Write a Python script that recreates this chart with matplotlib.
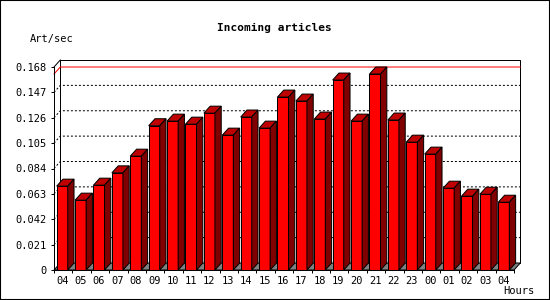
import numpy as np
import matplotlib
matplotlib.use("Agg")
import matplotlib.pyplot as plt
from matplotlib.patches import Polygon, Rectangle

hours = ["04", "05", "06", "07", "08", "09", "10", "11", "12", "13", "14", "15",
         "16", "17", "18", "19", "20", "21", "22", "23", "00", "01", "02", "03", "04"]
values = [0.0694, 0.0578, 0.0702, 0.0804, 0.0942, 0.1194, 0.1232, 0.1207, 0.1298,
          0.1116, 0.1266, 0.1174, 0.1431, 0.1398, 0.1249, 0.1572, 0.1232, 0.1622,
          0.1241, 0.1058, 0.0959, 0.0677, 0.0611, 0.0627, 0.0561]
yticks = [0, 0.021, 0.042, 0.063, 0.084, 0.105, 0.126, 0.147, 0.168]
ytick_labels = ["0", "0.021", "0.042", "0.063", "0.084", "0.105", "0.126", "0.147", "0.168"]

plt.rcParams["font.family"] = ["DejaVu Sans Mono"]
plt.rcParams["font.size"] = 7.5

W, H = 550, 300
fig = plt.figure(figsize=(W / 100, H / 100), dpi=100)
ax = fig.add_axes([54 / W, 30 / H, 460 / W, 203 / H])
ax.set_facecolor("none")

n = len(values)
ymax = yticks[-1]
x0, x1 = -0.5, n - 0.5
ax.set_xlim(x0, x1)
ax.set_ylim(0, ymax)

# 3d depth, pixels -> data units
dx = 6.3 * n / 460
dy = 7 * ymax / 203
lw = 0.72

# back wall
ax.add_patch(Rectangle((x0 + dx, dy), n, ymax, fc="white", ec="black",
                       lw=lw, clip_on=False, zorder=0.5))
# floor
ax.add_patch(Polygon([(x0, 0), (x1, 0), (x1 + dx, dy), (x0 + dx, dy)],
                     closed=True, fc="#808080", ec="black", lw=lw,
                     clip_on=False, zorder=0.6))

# grid lines on the back wall
for v in yticks[1:-1]:
    ax.plot([x0, x0 + dx, x1 + dx], [v, v + dy, v + dy], color="black",
            ls=(0, (2, 2)), lw=lw, clip_on=False, zorder=1)

# max value line
vmax = max(values)
ax.plot([x0, x0 + dx, x1 + dx], [vmax, vmax + dy, vmax + dy], color="red",
        lw=lw, clip_on=False, zorder=1.2)

ax.plot([x0, x0 + dx], [ymax, ymax + dy], color="black", lw=lw,
        clip_on=False, zorder=1.2)

# bars
bw = 0.6
xs = np.arange(n) - 0.054
ax.bar(xs, values, width=bw, color="#ff0000", edgecolor="black", lw=lw, zorder=3)
for x, v in zip(xs, values):
    l, r = x - bw / 2, x + bw / 2
    ax.add_patch(Polygon([(l, v), (r, v), (r + dx, v + dy), (l + dx, v + dy)],
                         closed=True, fc="#c00000", ec="black", lw=lw,
                         clip_on=False, zorder=3))
    ax.add_patch(Polygon([(r, 0), (r + dx, dy), (r + dx, v + dy), (r, v)],
                         closed=True, fc="#800000", ec="black", lw=lw,
                         clip_on=False, zorder=3))

for s in ["top", "right"]:
    ax.spines[s].set_visible(False)
for s in ["left", "bottom"]:
    ax.spines[s].set_linewidth(lw)
    ax.spines[s].set_zorder(4)

ax.set_yticks(yticks, ytick_labels)
ax.tick_params(axis="y", length=2.2, width=lw, pad=3.4)
ax.set_xticks(xs, hours)
ax.set_xticks(np.arange(n + 1) - 0.5, minor=True)
ax.tick_params(axis="x", which="major", length=0, pad=4.5)
ax.tick_params(axis="x", which="minor", length=2.2, width=lw)

fig.text(274 / W, 1 - 28 / H, "Incoming articles", ha="center", va="center",
         fontweight="bold", fontsize=8)
fig.text(30 / W, 1 - 39 / H, "Art/sec", ha="left", va="center")
fig.text(534 / W, 1 - 291 / H, "Hours", ha="right", va="center")

fig.patches.append(Rectangle((0, 0), 1, 1, transform=fig.transFigure,
                             fill=False, ec="black", lw=1.5))

fig.savefig("out.png", dpi=100)
